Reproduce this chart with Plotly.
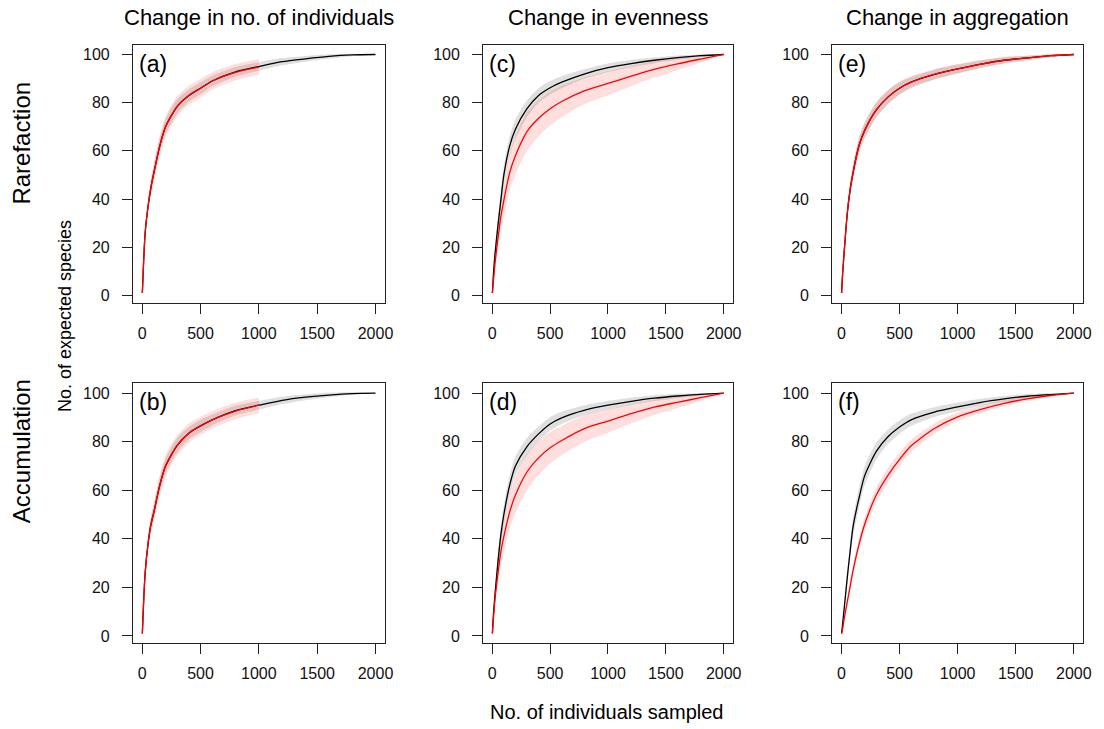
import plotly.graph_objects as go

# ---------------- data ----------------
X = [1, 10, 25, 50, 75, 100, 150, 200, 300, 400, 500, 600, 800, 1000, 1200, 1400, 1600, 1800, 2000]
X_HALF = [1, 10, 25, 50, 75, 100, 150, 200, 300, 400, 500, 600, 800, 1000]

col_titles = ["Change in no. of individuals", "Change in evenness", "Change in aggregation"]
row_titles = ["Rarefaction", "Accumulation"]
panel_letters = ["(a)", "(b)", "(c)", "(d)", "(e)", "(f)"]
x_ticks = [0, 500, 1000, 1500, 2000]
y_ticks = [0, 20, 40, 60, 80, 100]

# panel (a): rarefaction, change in no. of individuals
black_a = [1, 12, 26, 37, 45, 51, 62, 70, 78.5, 83, 86, 89, 92.8, 95, 97, 98.2, 99.2, 99.8, 100]
black_a_sd = [0, 0.5, 1.5, 2.5, 3, 3, 3, 3, 3, 2.5, 2.5, 2.2, 2, 1.8, 1.5, 1.2, 0.9, 0.5, 0]
red_a = [1, 12, 26, 37, 45, 51, 62, 70, 78.5, 83, 86, 89, 92.6, 94.8]
red_a_sd = [0, 0.5, 1.5, 2.5, 3.5, 4, 4.5, 4.5, 4.2, 4, 3.8, 3.6, 3.4, 3.2]

# panel (b): accumulation, change in no. of individuals
black_b = [1, 12, 26, 38, 46, 51, 62, 70, 78.5, 83.5, 86.5, 89, 92.8, 95, 97, 98.3, 99.2, 99.8, 100]
black_b_sd = [0, 0.5, 1.5, 2.5, 3, 3, 3, 3, 3, 2.5, 2.5, 2.2, 2, 1.8, 1.5, 1.2, 0.9, 0.5, 0]
red_b = [1, 12, 26, 38, 46, 51, 62, 70, 78.5, 83.5, 86.5, 89, 92.6, 95]
red_b_sd = [0, 0.5, 1.5, 2.5, 3.5, 4, 4.5, 4.5, 4.2, 4, 3.8, 3.6, 3.4, 3.2]

# panel (c): rarefaction, change in evenness
black_c = [1, 9, 18, 29.5, 40, 50, 62, 69, 77.5, 83, 86.2, 88.5, 92, 94.5, 96.2, 97.6, 98.7, 99.5, 100]
black_c_sd = [0, 1, 2.5, 3.5, 4, 4, 4, 4, 3.5, 3, 2.8, 2.5, 2, 1.8, 1.5, 1.2, 0.9, 0.5, 0]
red_c = [1, 6, 14, 24, 33, 39.5, 51, 58, 68, 73.5, 77.5, 80.5, 85, 88, 91, 93.8, 96.1, 98.1, 100]
red_c_sd = [0, 1, 3, 5, 6, 7, 7.5, 8, 8, 7.5, 7, 6.5, 5.5, 5, 4.2, 3.4, 2.6, 1.5, 0]

# panel (d): accumulation, change in evenness
black_d = [1, 9, 18, 31, 42, 50, 62, 70, 78, 83.2, 87.3, 89.8, 93, 95, 96.6, 97.9, 98.8, 99.5, 100]
black_d_sd = [0, 1, 2.5, 3.5, 4, 4, 4, 4, 3.5, 3, 2.8, 2.5, 2, 1.8, 1.5, 1.2, 0.9, 0.5, 0]
red_d = [1, 7, 16, 26, 35, 41, 51, 58, 67.5, 73.3, 77.5, 80.5, 85.5, 88.5, 91.5, 94.2, 96.2, 98.1, 100]
red_d_sd = [0, 1, 3, 5, 6, 6.5, 7, 7.5, 7.5, 7, 6.5, 6, 5.5, 4.8, 4, 3.2, 2.4, 1.4, 0]

# panel (e): rarefaction, change in aggregation
black_e = [1, 9, 19, 34, 44, 51, 62, 68.5, 77, 82.3, 86, 88.5, 91.7, 94, 96, 97.6, 98.6, 99.5, 100]
black_e_sd = [0, 0.5, 1.5, 2.5, 3, 3, 3, 3, 3, 2.8, 2.5, 2.2, 2, 1.8, 1.5, 1.2, 0.9, 0.5, 0]
red_e = [1, 9, 19, 34, 44, 51, 62, 68.5, 77, 82.3, 86, 88.5, 91.7, 94, 96, 97.6, 98.6, 99.5, 100]
red_e_sd = [0, 0.5, 1.5, 2.5, 3, 3.5, 3.5, 3.5, 3.2, 3, 2.8, 2.5, 2.2, 2, 1.7, 1.4, 1, 0.6, 0]

# panel (f): accumulation, change in aggregation
black_f = [1, 5, 12, 24, 35, 45, 56.5, 66, 76, 82, 86, 89, 92.2, 94.3, 96.2, 97.6, 98.7, 99.4, 100]
black_f_sd = [0, 1, 2, 3, 3.5, 4, 4, 4, 3.5, 3, 2.8, 2.5, 2, 1.8, 1.5, 1.2, 0.9, 0.5, 0]
red_f = [1, 3, 7.5, 14, 20.5, 27, 37.5, 46, 58, 66.1, 72.7, 78.3, 85.4, 90.2, 93.3, 95.8, 97.6, 99, 100]
red_f_sd = [0, 0.5, 1, 1.5, 2, 2.2, 2.5, 2.8, 3, 3, 2.8, 2.5, 2.2, 1.8, 1.5, 1.2, 0.9, 0.5, 0]

# ---------------- layout geometry ----------------
W, H = 1104, 729
col_px = [(134, 388), (487, 739), (839, 1092)]
row_px = [(45, 303), (384, 644)]

def fx(px):
    return px / W

def fy(py):
    return 1 - py / H

FONT = "Liberation Sans, Arial, Helvetica, sans-serif"
GREY_BAND = "rgba(128,128,128,0.25)"
PINK_BAND = "rgba(255,0,0,0.13)"
SMOOTH = 0.7

panels = [
    (0, 0, panel_letters[0], black_a, black_a_sd, red_a, red_a_sd, X_HALF),
    (1, 0, panel_letters[1], black_b, black_b_sd, red_b, red_b_sd, X_HALF),
    (0, 1, panel_letters[2], black_c, black_c_sd, red_c, red_c_sd, X),
    (1, 1, panel_letters[3], black_d, black_d_sd, red_d, red_d_sd, X),
    (0, 2, panel_letters[4], black_e, black_e_sd, red_e, red_e_sd, X),
    (1, 2, panel_letters[5], black_f, black_f_sd, red_f, red_f_sd, X),
]

fig = go.Figure()
layout = dict(
    width=W, height=H,
    margin=dict(l=0, r=0, t=0, b=0),
    paper_bgcolor="white", plot_bgcolor="white",
    showlegend=False,
    font=dict(family=FONT, color="black"),
)
annotations = []

for i, (r, c, letter, bk, bk_sd, rd, rd_sd, rx) in enumerate(panels):
    n = i + 1
    xa = "x" if n == 1 else f"x{n}"
    ya = "y" if n == 1 else f"y{n}"
    x0, x1 = col_px[c]
    y0, y1 = row_px[r]
    axis_common = dict(
        showline=True, mirror=True, linecolor="#222222", linewidth=1,
        ticks="outside", ticklen=10, tickwidth=1, tickcolor="#222222",
        showgrid=False, zeroline=False,
        tickfont=dict(family=FONT, size=16, color="#111111"),
    )
    layout["xaxis" if n == 1 else f"xaxis{n}"] = dict(
        axis_common, domain=[fx(x0), fx(x1)], range=[-80, 2080],
        tickvals=x_ticks, anchor=ya, ticklabelstandoff=6,
    )
    layout["yaxis" if n == 1 else f"yaxis{n}"] = dict(
        axis_common, domain=[fy(y1), fy(y0)], range=[-2.96, 103.96],
        tickvals=y_ticks, anchor=xa, ticklabelstandoff=9,
    )

    bk_lo = [m - s for m, s in zip(bk, bk_sd)]
    bk_hi = [m + s for m, s in zip(bk, bk_sd)]
    rd_lo = [m - s for m, s in zip(rd, rd_sd)]
    rd_hi = [m + s for m, s in zip(rd, rd_sd)]

    common = dict(xaxis=xa, yaxis=ya, hoverinfo="skip", mode="lines")
    band = dict(width=0, shape="spline", smoothing=SMOOTH)
    fig.add_trace(go.Scatter(x=X, y=bk_lo, line=band, **common))
    fig.add_trace(go.Scatter(x=X, y=bk_hi, line=band,
                             fill="tonexty", fillcolor=GREY_BAND, **common))
    fig.add_trace(go.Scatter(x=rx, y=rd_lo, line=band, **common))
    fig.add_trace(go.Scatter(x=rx, y=rd_hi, line=band,
                             fill="tonexty", fillcolor=PINK_BAND, **common))
    fig.add_trace(go.Scatter(x=X, y=bk, line=dict(color="black", width=1.3, shape="spline",
                                                  smoothing=SMOOTH), **common))
    fig.add_trace(go.Scatter(x=rx, y=rd, line=dict(color="red", width=1.3, shape="spline",
                                                   smoothing=SMOOTH), **common))

    annotations.append(dict(
        text=letter, xref=f"{xa} domain", yref=f"{ya} domain",
        x=0.015, y=0.985, xanchor="left", yanchor="top", showarrow=False,
        font=dict(family=FONT, size=23, color="black"),
    ))

for c, t in enumerate(col_titles):
    x0, x1 = col_px[c]
    annotations.append(dict(
        text=t, xref="paper", yref="paper", x=fx((x0 + x1) / 2), y=fy(18),
        xanchor="center", yanchor="middle", showarrow=False,
        font=dict(family=FONT, size=22, color="black"),
    ))

row_label_y = [143, 452]
for r, t in enumerate(row_titles):
    annotations.append(dict(
        text=t, xref="paper", yref="paper", x=fx(22), y=fy(row_label_y[r]),
        xanchor="center", yanchor="middle", showarrow=False, textangle=-90,
        font=dict(family=FONT, size=24, color="black"),
    ))

annotations.append(dict(
    text="No. of expected species", xref="paper", yref="paper", x=fx(65), y=fy(316),
    xanchor="center", yanchor="middle", showarrow=False, textangle=-90,
    font=dict(family=FONT, size=18, color="black"),
))
annotations.append(dict(
    text="No. of individuals sampled", xref="paper", yref="paper", x=fx(611), y=fy(713),
    xanchor="center", yanchor="middle", showarrow=False,
    font=dict(family=FONT, size=20, color="black"),
))

layout["annotations"] = annotations
fig.update_layout(**layout)
# remove the browser's default 8 px body margin so the figure sits at the page origin
fig.write_html("out.html",
               config={"displayModeBar": False, "staticPlot": True},
               post_script="document.body.style.margin='0px';document.body.style.overflow='hidden';")
